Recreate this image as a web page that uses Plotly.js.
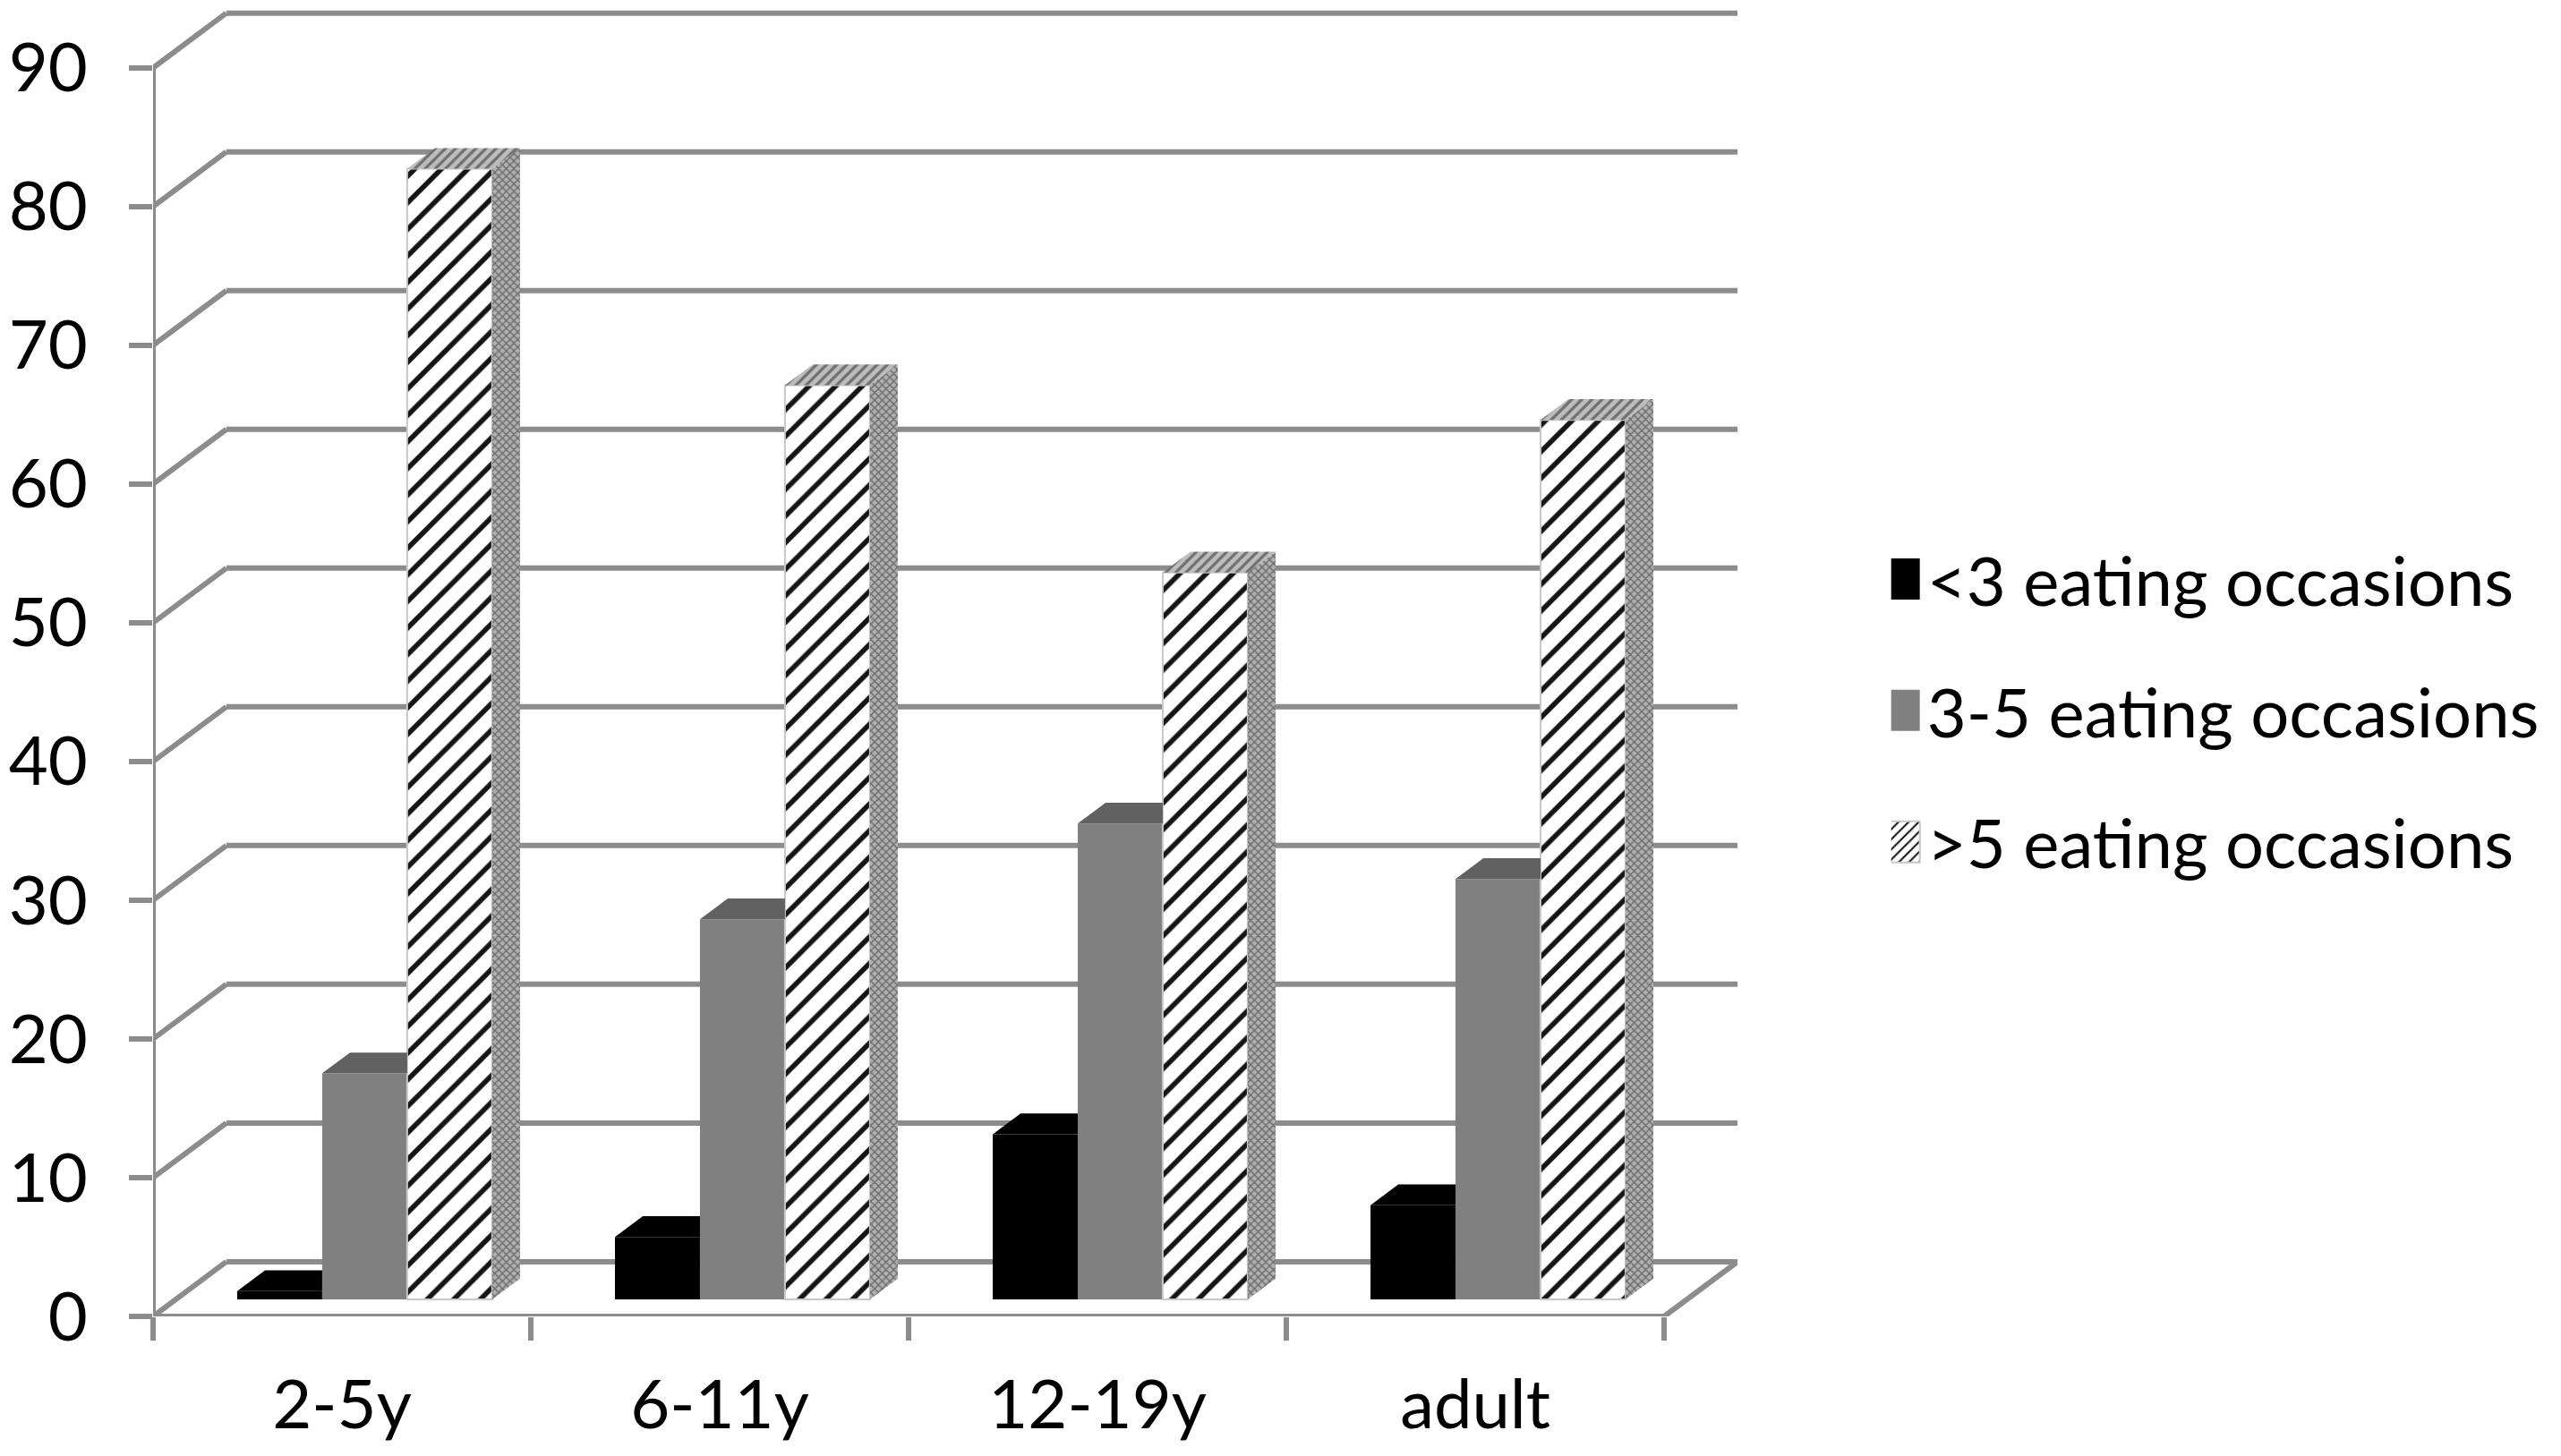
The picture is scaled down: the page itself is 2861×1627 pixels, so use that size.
<!DOCTYPE html>
<html>
<head>
<meta charset="utf-8">
<script src="https://cdn.plot.ly/plotly-3.0.1.min.js"></script>
<style>html,body{margin:0;padding:0;background:#fff;}#chart{width:2861px;height:1627px;}</style>
</head>
<body>
<div id="chart"></div>
<script>
// ---- data ----
const categories = ['2-5y', '6-11y', '12-19y', 'adult'];
const seriesNames = ['<3 eating occasions', '3-5 eating occasions', '>5 eating occasions'];
const lessThan3 = [0.6, 4.5, 11.9, 6.8];
const from3to5 = [16.3, 27.4, 34.3, 30.3];
const moreThan5 = [81.5, 65.9, 52.4, 63.4];
const yTickVals = [0, 10, 20, 30, 40, 50, 60, 70, 80, 90];

// ---- 3-D look (oblique depth of the floor / back wall) ----
const DX = 0.194;          // depth shift in category units
const DY = 3.94;           // depth shift in value units
const FRONT = 0.31;        // depth fraction of bar front face
const DEPTH = 0.38;        // depth fraction of bar thickness
const BW = 0.225;          // bar width in category units
const GRID = '#8c8c8c';
const LW = 6;
const FONT = 'Lato, "Open Sans", sans-serif';
const FS = 76;

const series = [lessThan3, from3to5, moreThan5];
const idx = categories.map((c, i) => i);
const shiftX = FRONT * DX;
const base = FRONT * DY;
const ddx = DEPTH * DX, ddy = DEPTH * DY;
const nCat = categories.length;
const yMax = yTickVals[yTickVals.length - 1];

// frame shapes (drawn below the bars)
const shapes = [];
function seg(x0, y0, x1, y1) {
  shapes.push({type: 'line', xref: 'x', yref: 'y', x0: x0, y0: y0, x1: x1, y1: y1,
    layer: 'below', line: {color: GRID, width: LW}});
}
yTickVals.forEach(v => {
  seg(-0.5 + DX, v + DY, nCat - 0.5 + DX, v + DY);   // back wall gridline
  seg(-0.5, v, -0.5 + DX, v + DY);                    // side wall diagonal
});
seg(-0.5, 0, -0.5, yMax);                               // front value axis
seg(-0.5, 0, nCat - 0.5, 0);                            // floor front edge
seg(nCat - 0.5, 0, nCat - 0.5 + DX, DY);                // floor right edge

const fills = {
  front: ['#000000', '#808080', '#ffffff'],
  top: ['#000000', '#616161', '#a6a6a6'],
};

const traces = [];
series.forEach((vals, s) => {
  const tr = {
    type: 'bar', name: seriesNames[s],
    x: idx.map(i => i + shiftX), y: vals, base: base,
    width: BW, offset: (s - 1.5) * BW,
    legendgroup: 'g' + s,
    hoverinfo: 'skip',
    marker: {color: fills.front[s], line: {width: 0}}
  };
  if (s === 2) {
    tr.marker = {color: '#ffffff',
      line: {width: 2, color: '#c8c8c8'},
      pattern: {shape: '/', fgcolor: '#151515', bgcolor: '#ffffff', size: 21, solidity: 0.27}};
  }
  traces.push(tr);
});

// top faces and side faces of the boxes, computed from the values
series.forEach((vals, s) => {
  const xs = [], ys = [];
  vals.forEach((v, i) => {
    const xl = i + shiftX + (s - 1.5) * BW, xr = xl + BW, t = base + v;
    if (s < 2) {
      xs.push(xl, xr, xr, xl + ddx, xl, null);
    } else {
      xs.push(xl, xr, xr + ddx, xl + ddx, xl, null);
    }
    ys.push(t, t, t + ddy, t + ddy, t, null);
  });
  const tr = {type: 'scatter', mode: 'lines', x: xs, y: ys, fill: 'toself',
    fillcolor: fills.top[s], line: {width: 0}, hoverinfo: 'skip', showlegend: false};
  if (s === 2) {
    tr.fillpattern = {shape: '/', fgcolor: '#707070', bgcolor: '#bdbdbd', size: 8, solidity: 0.4};
  }
  traces.push(tr);
  if (s === 2) {
    const sx = [], sy = [];
    vals.forEach((v, i) => {
      const xr = i + shiftX + 0.5 * BW + BW, t = base + v;
      sx.push(xr, xr + ddx, xr + ddx, xr, xr, null);
      sy.push(base, base + ddy, t + ddy, t, base, null);
    });
    traces.push({type: 'scatter', mode: 'lines', x: sx, y: sy, fill: 'toself',
      fillcolor: '#9a9a9a', line: {width: 0}, hoverinfo: 'skip', showlegend: false,
      fillpattern: {shape: 'x', fgcolor: '#6a6a6a', bgcolor: '#b0b0b0', size: 6, solidity: 0.4}});
  }
});

const layout = {
  width: 2861, height: 1627,
  paper_bgcolor: '#ffffff', plot_bgcolor: 'rgba(0,0,0,0)',
  margin: {l: 171, r: 920, t: 6, b: 156},
  barmode: 'overlay',
  font: {family: FONT, size: FS, color: '#000000'},
  showlegend: true,
  legend: {x: 1.097, xanchor: 'left', y: 0.462, yanchor: 'middle',
    traceorder: 'grouped', tracegroupgap: 45,
    font: {family: FONT, size: FS, color: '#000'}, bgcolor: 'rgba(0,0,0,0)'},
  xaxis: {
    range: [-0.5, nCat - 0.5 + DX], showgrid: false, zeroline: false, showline: false,
    tickmode: 'array', tickvals: idx, ticktext: categories, ticks: '',
    ticklabelstandoff: 48,
    tickfont: {family: FONT, size: FS, color: '#000'},
    minor: {tickmode: 'array', tickvals: idx.concat([nCat]).map(i => i - 0.5),
      ticks: 'outside', ticklen: 26, tickwidth: LW, tickcolor: GRID, showgrid: false}
  },
  yaxis: {
    range: [0, 94.5], showgrid: false, zeroline: false, showline: false,
    tickmode: 'array', tickvals: yTickVals, ticks: 'outside', ticklen: 26,
    tickwidth: LW, tickcolor: GRID, ticklabelstandoff: 31,
    tickfont: {family: FONT, size: FS, color: '#000'}
  },
  shapes: shapes
};

Plotly.newPlot('chart', traces, layout, {staticPlot: true}).then(gd => {
  // enlarge legend swatches to the size used in the reference
  gd.querySelectorAll('.legend .legendpoints path').forEach(p => {
    p.setAttribute('d', 'M12,23H-34V-23H12Z');
  });
});
</script>
</body>
</html>
